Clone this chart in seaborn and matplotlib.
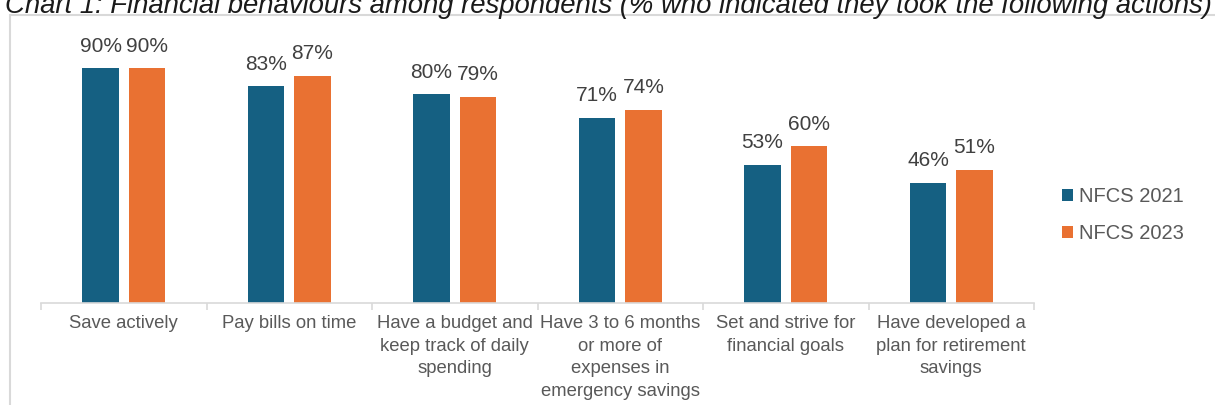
import matplotlib
matplotlib.use("Agg")
import matplotlib.pyplot as plt
import seaborn as sns
import pandas as pd
import numpy as np
from matplotlib.patches import Rectangle, Patch

categories = [
    "Save actively",
    "Pay bills on time",
    "Have a budget and\nkeep track of daily\nspending",
    "Have 3 to 6 months\nor more of\nexpenses in\nemergency savings",
    "Set and strive for\nfinancial goals",
    "Have developed a\nplan for retirement\nsavings",
]
series_names = ["NFCS 2021", "NFCS 2023"]
nfcs_2021 = [90, 83, 80, 71, 53, 46]
nfcs_2023 = [90, 87, 79, 74, 60, 51]
colors = ["#156082", "#E97132"]
title = "Chart 1: Financial behaviours among respondents (% who indicated they took the following actions)"

df = pd.DataFrame({
    "category": categories * 2,
    "series": [series_names[0]] * len(categories) + [series_names[1]] * len(categories),
    "value": nfcs_2021 + nfcs_2023,
})

sns.set_theme(style="white")
plt.rcParams["font.family"] = ["Liberation Sans", "DejaVu Sans"]

W, H = 1215, 405
fig = plt.figure(figsize=(W / 100, H / 100), dpi=100)
ax = fig.add_axes([41 / W, (H - 303) / H, (1034 - 41) / W, (303 - 42) / H])

sns.barplot(data=df, x="category", y="value", hue="series", order=categories,
            hue_order=series_names, palette=colors, width=0.56, gap=0.21,
            saturation=1, linewidth=0, legend=False, ax=ax)

ax.set_ylim(0, 100)
ax.set_xlim(-0.5, len(categories) - 0.5)
ax.set_xlabel("")
ax.set_ylabel("")
ax.set_yticks([])
for s in ["top", "right", "left"]:
    ax.spines[s].set_visible(False)
ax.spines["bottom"].set_color("#d9d9d9")
ax.spines["bottom"].set_linewidth(1.2)

ax.set_xticks(range(len(categories)))
ax.set_xticklabels(categories, fontsize=13.3, color="#595959", linespacing=1.42,
                   va="top")
ax.tick_params(axis="x", which="major", length=0, pad=9)
ax.set_xticks(np.arange(-0.5, len(categories), 1.0), minor=True)
ax.tick_params(axis="x", which="minor", length=5, width=1.2, color="#d9d9d9",
               direction="out", bottom=True)

for cont in ax.containers:
    ax.bar_label(cont, labels=[f"{v:.0f}%" for v in cont.datavalues],
                 padding=9, fontsize=15, color="#404040")

handles = [Patch(facecolor=c, edgecolor="none") for c in colors]
fig.legend(handles, series_names, loc="center left",
           bbox_to_anchor=(1062 / W, 1 - 215 / H), frameon=False,
           fontsize=14.5, labelcolor="#595959", handlelength=0.55,
           handleheight=0.55, handletextpad=0.3, labelspacing=0.9,
           borderpad=0, borderaxespad=0)

fig.patches.append(Rectangle((10.5 / W, -0.1), 1.2, 1.1 - 14.5 / H,
                             transform=fig.transFigure, fill=False,
                             edgecolor="#d9d9d9", linewidth=1.5))

fig.text(5 / W, 1 - 13 / H, title, fontsize=19.8, style="italic", color="#1a1a1a",
         va="baseline", ha="left")

fig.savefig("out.png", dpi=100)
